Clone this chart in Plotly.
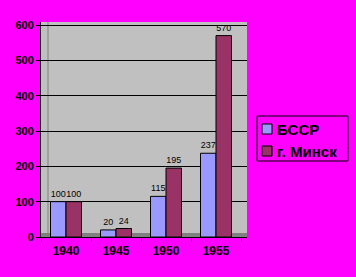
import plotly.graph_objects as go

years = ["1940", "1945", "1950", "1955"]
bssr = [100, 20, 115, 237]
minsk = [100, 24, 195, 570]
series_names = ["БССР", "г. Минск"]
y_ticks = [0, 100, 200, 300, 400, 500, 600]

BG = "#FF00FF"
WALL = "#C0C0C0"
C1 = "#9999FF"
C2 = "#993366"
FONT = "Liberation Sans, Arial, sans-serif"

fig = go.Figure()
for name, vals, col in [(series_names[0], bssr, C1), (series_names[1], minsk, C2)]:
    fig.add_trace(go.Bar(
        x=years, y=vals, name=name, showlegend=False,
        marker=dict(color=col, line=dict(color="black", width=1)),
        text=[str(v) for v in vals], textposition="outside",
        constraintext="none", cliponaxis=False,
        textfont=dict(family=FONT, size=9, color="black"),
    ))

# floor strip and side wall edge (decoration)
fig.add_shape(type="rect", xref="paper", yref="y", x0=0, x1=1, y0=0, y1=11,
              fillcolor="#808080", line=dict(width=0), layer="below")
fig.add_shape(type="line", xref="paper", yref="paper", x0=7/206, x1=7/206,
              y0=4/215, y1=1, line=dict(color="#808080", width=1), layer="below")

# manual legend (Excel-style compact legend)
def px(x):
    return (x - 41) / 206

def py(y):
    return (237 - y) / 215

fig.add_shape(type="rect", xref="paper", yref="paper",
              x0=px(257), x1=px(348), y0=py(161), y1=py(116),
              line=dict(color="black", width=1), fillcolor=BG)
for i, (name, col) in enumerate(zip(series_names, [C1, C2])):
    top = 124 + i * 22
    fig.add_shape(type="rect", xref="paper", yref="paper",
                  x0=px(262), x1=px(272), y0=py(top + 10), y1=py(top),
                  line=dict(color="black", width=1), fillcolor=col)
    fig.add_annotation(xref="paper", yref="paper", x=px(275), y=py(top + 5),
                       xanchor="left", yanchor="middle", text=name,
                       showarrow=False,
                       font=dict(family=FONT, size=15, color="black", weight="bold"))

fig.update_layout(
    width=356, height=277,
    margin=dict(l=41, r=109, t=22, b=40),
    paper_bgcolor=BG, plot_bgcolor=WALL,
    barmode="group", bargap=0.38, bargroupgap=0,
    font=dict(family=FONT, color="black"),
    showlegend=False,
    xaxis=dict(
        range=[-0.5, 3.62], showline=True, linecolor="black", linewidth=1,
        ticks="outside", tickson="boundaries", ticklen=4, tickcolor="black",
        ticklabelstandoff=3,
        tickfont=dict(family=FONT, size=12, color="black", weight="bold"),
        showgrid=False,
    ),
    yaxis=dict(
        range=[0, 608.5], tickvals=y_ticks, showline=True, linecolor="black",
        linewidth=1, ticks="outside", ticklen=4, tickcolor="black",
        tickfont=dict(family=FONT, size=11, color="black", weight="bold"),
        showgrid=True, gridcolor="black", gridwidth=1, zeroline=False,
    ),
)

fig.write_html("out.html")
